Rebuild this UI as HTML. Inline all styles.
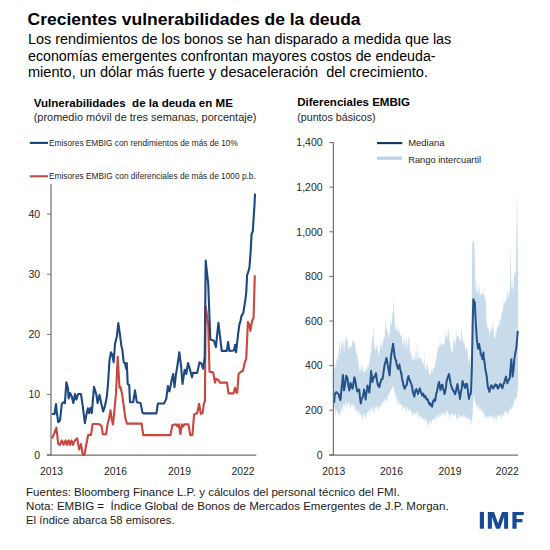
<!DOCTYPE html>
<html><head><meta charset="utf-8"><style>html,body{margin:0;padding:0;background:#fff;width:550px;height:550px;overflow:hidden}svg{display:block;font-family:"Liberation Sans", sans-serif}text{white-space:pre}</style></head>
<body><svg width="550" height="550" viewBox="0 0 550 550" font-family="'Liberation Sans', sans-serif">
<rect width="550" height="550" fill="#fff"/>
<!-- left chart -->
<line x1="51.0" y1="184" x2="51.0" y2="455.6" stroke="#6e6e6e" stroke-width="1.2"/>
<line x1="47" y1="455.1" x2="256.3" y2="455.1" stroke="#6e6e6e" stroke-width="1.2"/>
<path transform="translate(0,0.4)" d="M51.8,438.0 L53.6,434.5 L56.4,427.3 L58.2,443.6 L60.0,444.5 L61.8,440.0 L63.6,444.5 L65.5,440.0 L67.0,444.5 L68.5,440.0 L70.0,444.5 L71.5,440.0 L73.0,444.5 L75.0,440.0 L77.3,438.0 L79.0,449.0 L81.0,443.6 L82.7,454.5 L84.5,454.5 L86.4,443.6 L88.2,434.5 L91.0,434.5 L92.7,423.6 L96.4,423.6 L99.9,424.0 L101.5,425.6 L102.9,433.8 L106.1,433.8 L107.8,422.4 L108.9,419.0 L110.5,410.0 L111.7,419.0 L113.0,424.0 L114.3,411.0 L116.0,393.0 L117.7,356.4 L119.5,387.3 L120.4,386.4 L122.0,393.0 L123.6,404.4 L125.3,417.5 L126.9,423.2 L141.6,423.2 L143.3,434.7 L170.5,434.7 L172.3,424.9 L176.0,423.8 L177.5,426.0 L178.8,423.8 L180.4,433.6 L181.9,423.8 L183.2,426.0 L184.7,423.8 L188.4,423.8 L190.2,434.7 L192.4,434.7 L194.1,414.0 L197.2,412.9 L199.1,403.3 L200.8,413.5 L202.6,412.7 L204.0,402.5 L204.9,401.0 L205.7,306.0 L207.2,316.2 L208.2,323.8 L209.5,371.3 L213.2,372.0 L215.0,382.2 L216.1,378.5 L218.3,379.3 L220.0,382.2 L227.0,382.2 L228.5,393.0 L233.5,393.0 L235.0,387.3 L236.5,392.4 L237.2,392.4 L238.6,373.5 L240.8,371.3 L243.0,370.5 L243.7,367.0 L245.2,360.4 L246.2,358.9 L247.1,340.0 L247.9,321.5 L249.2,323.9 L250.4,330.5 L252.0,320.6 L253.6,317.4 L254.8,274.8" fill="none" stroke="#c9463e" stroke-width="2.1" stroke-linejoin="round"/>
<path transform="translate(0,0.4)" d="M51.8,413.6 L54.5,413.6 L56.0,403.6 L56.9,412.7 L58.2,421.8 L60.0,420.0 L61.8,403.6 L63.6,401.8 L64.9,402.7 L66.4,381.8 L67.8,387.0 L68.7,398.0 L70.0,392.7 L71.8,396.0 L73.3,402.7 L75.0,393.6 L76.4,399.0 L78.2,393.6 L81.0,393.6 L82.7,405.5 L84.9,422.7 L86.4,414.5 L87.8,408.0 L89.0,412.7 L90.4,407.6 L91.8,412.7 L94.0,386.4 L96.4,394.5 L97.6,402.7 L99.5,394.5 L101.4,403.6 L103.2,411.0 L105.0,405.5 L106.8,396.4 L108.0,383.6 L109.5,360.0 L111.0,351.8 L112.3,354.5 L113.7,361.8 L115.0,343.6 L116.8,336.4 L118.3,322.7 L119.5,331.0 L121.4,345.5 L122.3,349.0 L123.7,361.8 L125.0,362.7 L126.0,368.0 L126.8,362.7 L127.7,383.6 L129.2,384.5 L130.0,401.8 L133.2,401.8 L135.0,390.0 L136.8,401.8 L140.5,402.7 L142.6,412.7 L143.9,413.0 L156.4,413.0 L157.9,403.1 L164.0,403.1 L166.2,398.7 L167.9,385.6 L169.5,391.0 L171.6,380.2 L173.2,373.6 L174.5,386.7 L176.0,373.6 L177.5,364.9 L179.3,351.8 L181.0,364.9 L182.5,383.5 L184.7,369.3 L186.3,373.6 L188.0,362.7 L189.7,368.2 L192.0,376.9 L192.8,372.5 L197.2,372.5 L199.5,362.0 L201.5,363.3 L203.1,368.3 L204.7,356.9 L205.7,260.2 L207.2,274.2 L208.2,283.0 L210.3,339.0 L214.0,340.3 L215.9,346.7 L218.4,322.5 L220.4,339.0 L221.7,350.5 L226.8,350.5 L228.1,341.6 L229.4,350.5 L234.0,350.1 L235.1,344.4 L236.1,351.7 L238.1,333.7 L239.4,323.9 L240.5,320.6 L241.4,315.7 L243.3,312.5 L244.3,305.9 L245.5,298.6 L246.3,291.2 L247.1,274.8 L248.7,269.9 L249.5,266.8 L250.9,247.2 L251.5,234.1 L252.8,230.8 L253.6,217.7 L254.5,204.6 L255.0,193.2" fill="none" stroke="#1d4880" stroke-width="2.1" stroke-linejoin="round"/>
<line x1="29.8" y1="142.9" x2="48" y2="142.9" stroke="#17416f" stroke-width="2.1"/>
<line x1="29.8" y1="176.3" x2="48" y2="176.3" stroke="#b4504a" stroke-width="2.1"/>
<!-- right chart -->
<path d="M333.8,368.0 L334.2,368.3 L334.7,368.9 L334.9,366.9 L335.1,367.8 L335.6,362.7 L336.1,367.3 L336.5,357.4 L336.9,361.3 L337.4,356.1 L337.9,359.8 L338.2,360.4 L338.3,349.6 L338.8,355.9 L339.2,341.2 L339.6,338.7 L340.1,354.6 L340.6,353.2 L341.0,336.2 L341.4,347.8 L341.9,347.1 L342.3,343.0 L342.4,336.8 L342.8,343.3 L343.2,338.2 L343.7,350.1 L343.9,352.2 L344.1,353.0 L344.6,348.0 L345.1,334.5 L345.5,342.2 L345.9,333.2 L346.4,341.0 L346.9,342.4 L347.3,336.5 L347.8,338.8 L348.0,348.9 L348.2,351.4 L348.6,347.7 L349.1,348.5 L349.6,345.8 L350.0,349.7 L350.4,344.9 L350.9,345.0 L351.3,347.3 L351.4,347.9 L351.8,345.2 L352.2,345.4 L352.7,338.0 L353.1,341.0 L353.6,340.4 L354.1,343.9 L354.5,340.0 L354.9,343.5 L355.4,348.8 L355.9,352.0 L356.2,355.5 L356.3,353.2 L356.8,354.9 L357.2,350.1 L357.6,364.0 L358.1,356.3 L358.6,362.7 L359.0,365.4 L359.4,371.4 L359.5,368.6 L359.9,371.7 L360.4,369.1 L360.8,369.3 L361.2,361.3 L361.7,373.0 L362.1,371.1 L362.6,362.8 L363.1,372.6 L363.5,370.4 L363.9,373.2 L364.4,371.8 L364.9,372.2 L365.3,369.9 L365.8,368.9 L366.2,371.3 L366.6,367.9 L367.1,369.5 L367.6,365.1 L368.0,366.0 L368.4,366.7 L368.5,366.9 L368.9,365.3 L369.4,360.8 L369.8,360.4 L370.2,355.3 L370.7,355.6 L370.9,352.2 L371.1,352.7 L371.6,345.6 L372.1,339.2 L372.5,339.5 L372.9,333.0 L372.9,334.6 L373.4,326.7 L373.9,341.4 L374.3,344.3 L374.8,350.2 L375.0,350.6 L375.2,346.4 L375.6,351.0 L376.1,350.2 L376.6,344.4 L377.0,345.8 L377.4,346.3 L377.9,351.3 L378.4,353.9 L378.8,355.7 L379.1,355.5 L379.2,349.2 L379.7,352.1 L380.1,349.5 L380.6,339.3 L381.1,346.3 L381.5,346.2 L381.9,348.3 L382.4,344.0 L382.9,341.8 L383.3,341.3 L383.8,336.6 L384.2,337.4 L384.6,338.0 L385.1,332.6 L385.6,319.0 L386.0,320.3 L386.4,330.5 L386.5,328.0 L386.9,329.2 L387.4,330.1 L387.8,332.4 L388.2,337.4 L388.7,335.3 L388.9,337.5 L389.1,336.2 L389.6,332.9 L390.1,331.7 L390.5,319.1 L390.9,326.9 L391.4,325.0 L391.9,322.6 L392.3,313.9 L392.8,311.4 L393.2,310.4 L393.5,306.0 L393.6,292.6 L394.1,312.2 L394.6,318.9 L395.0,325.3 L395.4,328.0 L395.5,330.9 L395.9,329.7 L396.4,329.9 L396.8,331.1 L397.2,330.1 L397.7,324.8 L398.1,330.7 L398.6,333.3 L399.1,328.1 L399.5,330.6 L399.6,331.0 L399.9,334.1 L400.4,335.2 L400.9,337.1 L401.3,335.2 L401.8,332.2 L402.0,344.0 L402.2,345.4 L402.6,343.3 L403.1,338.6 L403.6,345.8 L404.0,335.0 L404.4,341.8 L404.9,348.7 L405.0,346.9 L405.4,336.6 L405.8,349.8 L406.2,335.7 L406.7,345.2 L407.1,349.6 L407.6,344.7 L408.1,339.2 L408.5,336.1 L408.8,346.9 L408.9,336.9 L409.4,337.1 L409.9,353.0 L410.3,351.3 L410.8,354.4 L411.2,357.5 L411.4,358.4 L411.6,346.9 L412.1,357.0 L412.6,359.6 L413.0,360.3 L413.4,359.0 L413.9,359.4 L414.4,355.0 L414.8,361.0 L415.2,362.2 L415.2,360.2 L415.7,352.0 L416.1,349.0 L416.6,359.6 L417.1,360.7 L417.5,351.0 L417.9,343.9 L418.4,360.9 L418.9,357.2 L419.3,360.1 L419.8,356.6 L420.2,357.6 L420.3,358.4 L420.6,358.1 L421.1,359.1 L421.6,358.7 L422.0,362.7 L422.4,362.3 L422.9,363.7 L423.4,364.9 L423.8,360.2 L424.2,351.5 L424.7,367.0 L425.1,365.0 L425.4,368.5 L425.6,371.1 L426.1,368.9 L426.5,361.7 L426.9,369.7 L427.4,366.6 L427.9,363.2 L428.3,370.6 L428.8,369.9 L429.2,372.5 L429.6,375.0 L430.1,374.2 L430.5,374.9 L430.6,372.5 L431.0,372.8 L431.4,368.5 L431.9,369.7 L432.4,369.3 L432.8,373.9 L433.2,369.1 L433.7,368.2 L434.1,363.5 L434.3,368.5 L434.6,368.1 L435.1,365.7 L435.5,360.7 L435.9,362.1 L436.4,355.5 L436.9,359.0 L437.3,348.1 L437.8,354.1 L438.1,350.0 L438.2,345.9 L438.6,346.7 L439.1,346.2 L439.6,347.7 L440.0,331.4 L440.4,345.3 L440.9,346.1 L441.4,343.7 L441.8,343.3 L442.2,347.6 L442.7,342.4 L443.1,344.3 L443.2,344.0 L443.6,343.8 L444.1,343.4 L444.5,344.4 L444.9,340.9 L445.4,331.6 L445.9,337.4 L446.3,341.1 L446.8,329.6 L447.2,335.2 L447.6,337.5 L448.1,333.7 L448.3,336.0 L448.6,327.3 L449.0,329.9 L449.4,339.7 L449.9,343.1 L450.4,345.6 L450.8,347.0 L451.2,350.3 L451.7,353.0 L452.1,352.0 L452.1,353.1 L452.6,352.4 L453.1,341.1 L453.5,346.5 L453.9,333.6 L454.4,340.9 L454.9,341.7 L455.3,344.7 L455.8,341.9 L456.2,339.5 L456.6,327.7 L457.1,339.3 L457.2,337.0 L457.6,334.9 L458.0,335.9 L458.4,338.0 L458.9,333.3 L459.4,341.8 L459.8,339.3 L460.2,341.8 L460.7,340.9 L461.0,341.0 L461.1,329.6 L461.6,327.4 L462.1,339.3 L462.5,342.5 L462.9,335.5 L463.4,341.7 L463.9,343.1 L464.3,342.9 L464.8,343.4 L464.8,345.0 L465.2,348.7 L465.6,349.3 L466.1,348.3 L466.6,346.4 L467.0,351.8 L467.4,346.5 L467.9,356.9 L468.4,362.0 L468.6,360.9 L468.8,363.2 L469.2,359.6 L469.7,356.2 L470.1,356.5 L470.6,365.3 L471.0,367.0 L471.1,366.5 L471.5,350.0 L471.9,283.1 L472.2,241.5 L472.4,243.8 L472.9,241.6 L473.3,241.8 L473.8,239.9 L474.0,239.0 L474.2,245.8 L474.6,250.3 L475.1,275.9 L475.5,288.7 L475.6,290.0 L476.0,291.8 L476.4,279.4 L476.9,291.1 L477.4,293.0 L477.8,293.1 L478.2,282.9 L478.7,294.3 L479.1,295.3 L479.6,284.2 L480.1,291.4 L480.2,293.5 L480.5,296.1 L480.9,294.8 L481.4,292.1 L481.9,295.2 L482.3,294.5 L482.8,293.9 L483.2,294.6 L483.6,288.3 L484.1,298.3 L484.6,294.4 L485.0,299.4 L485.4,299.2 L485.7,298.0 L485.9,302.3 L486.4,316.0 L486.8,324.3 L487.2,325.2 L487.7,327.1 L488.1,328.7 L488.6,327.8 L489.0,335.2 L489.1,335.6 L489.5,334.8 L489.9,329.7 L490.4,333.0 L490.9,328.6 L491.2,328.6 L491.3,329.7 L491.8,328.1 L492.2,332.7 L492.6,323.4 L493.1,319.8 L493.6,331.0 L494.0,335.7 L494.4,337.1 L494.9,338.7 L495.4,337.8 L495.5,337.4 L495.8,329.0 L496.2,332.6 L496.7,332.4 L497.1,324.1 L497.6,329.3 L497.7,328.6 L498.1,325.6 L498.5,326.3 L498.9,326.1 L499.4,316.3 L499.9,325.7 L499.9,324.3 L500.3,319.6 L500.8,318.4 L501.2,319.1 L501.6,312.6 L502.1,311.2 L502.6,311.2 L503.0,309.3 L503.4,306.7 L503.9,298.2 L504.4,303.7 L504.8,301.5 L505.2,300.5 L505.4,302.5 L505.7,305.0 L506.1,300.8 L506.6,298.4 L507.1,290.3 L507.5,292.1 L507.9,298.7 L508.4,292.0 L508.6,298.0 L508.9,299.6 L509.3,287.4 L509.8,295.0 L509.8,292.0 L510.2,250.0 L510.4,241.0 L510.6,257.4 L511.1,282.7 L511.2,288.0 L511.6,289.0 L512.0,273.7 L512.5,287.9 L512.9,290.5 L513.3,288.7 L513.4,287.2 L513.8,282.1 L514.2,274.0 L514.2,272.0 L514.7,274.3 L515.1,270.1 L515.6,274.7 L516.0,276.7 L516.0,271.7 L516.5,228.4 L517.0,203.1 L517.2,187.0 L517.4,215.1 L517.9,256.5 L518.0,290.0 L518.0,386.7 L517.9,389.2 L517.4,391.3 L517.0,396.2 L516.5,396.8 L516.0,397.2 L515.6,400.0 L515.4,399.4 L515.1,402.7 L514.7,397.9 L514.2,399.4 L513.8,405.1 L513.4,404.1 L512.9,405.5 L512.5,405.8 L512.0,410.3 L511.6,409.1 L511.1,405.4 L510.6,409.2 L510.3,409.6 L510.2,408.6 L509.8,409.3 L509.3,410.1 L508.9,410.1 L508.4,417.2 L507.9,414.1 L507.5,410.7 L507.1,414.3 L506.6,412.0 L506.1,413.2 L505.7,411.8 L505.2,410.7 L504.8,410.4 L504.4,412.6 L503.9,416.6 L503.4,415.6 L503.0,413.6 L502.7,414.7 L502.6,416.3 L502.1,412.8 L501.6,419.2 L501.2,420.0 L500.8,417.6 L500.3,414.9 L499.9,414.2 L499.4,414.4 L498.9,418.2 L498.5,414.2 L498.1,417.2 L497.6,415.5 L497.1,419.4 L496.7,424.8 L496.2,414.1 L495.8,417.5 L495.4,417.2 L495.0,417.2 L494.9,418.0 L494.4,420.0 L494.0,416.7 L493.6,423.1 L493.1,414.6 L492.6,415.0 L492.2,417.9 L491.8,418.7 L491.3,417.0 L490.9,415.4 L490.4,416.9 L489.9,415.4 L489.5,416.9 L489.1,416.1 L488.6,418.3 L488.1,415.1 L487.7,419.8 L487.4,417.2 L487.2,416.6 L486.8,414.7 L486.4,418.7 L485.9,416.9 L485.4,417.3 L485.0,418.9 L484.6,412.9 L484.1,415.5 L483.6,412.0 L483.2,411.0 L482.8,409.7 L482.4,412.1 L482.3,413.8 L481.9,409.8 L481.4,410.7 L480.9,411.5 L480.5,408.3 L480.1,407.1 L479.6,411.4 L479.1,405.9 L478.7,410.5 L478.2,405.1 L477.8,405.5 L477.4,409.7 L477.3,407.0 L476.9,406.1 L476.4,407.0 L476.0,400.6 L475.6,403.2 L475.1,403.5 L474.6,398.5 L474.2,396.7 L473.8,396.3 L473.5,396.9 L473.3,400.5 L472.9,410.1 L472.4,415.1 L472.2,421.0 L471.9,426.4 L471.5,422.9 L471.1,418.6 L470.6,421.8 L470.1,418.1 L470.1,419.5 L469.7,416.7 L469.2,419.6 L468.8,419.7 L468.4,421.1 L467.9,416.8 L467.4,418.1 L467.0,420.0 L466.6,417.0 L466.1,416.7 L465.6,419.3 L465.2,416.6 L464.8,417.6 L464.3,414.6 L463.9,413.7 L463.6,416.5 L463.4,417.8 L462.9,414.9 L462.5,414.8 L462.1,417.6 L461.6,416.4 L461.1,417.6 L460.7,417.3 L460.2,415.2 L459.8,417.8 L459.4,413.4 L458.9,421.2 L458.4,413.0 L458.0,415.5 L457.6,417.8 L457.1,422.7 L456.6,417.4 L456.2,418.7 L455.8,415.0 L455.3,412.7 L454.9,415.8 L454.4,413.6 L453.9,417.5 L453.7,415.0 L453.5,413.9 L453.1,414.6 L452.6,415.7 L452.1,412.3 L451.7,413.3 L451.2,414.0 L450.8,413.7 L450.4,418.8 L449.9,414.4 L449.4,422.1 L449.0,409.9 L448.6,415.3 L448.1,413.6 L447.6,410.1 L447.2,412.0 L446.8,412.7 L446.3,409.8 L445.9,414.2 L445.4,417.2 L444.9,413.3 L444.5,414.6 L444.1,412.0 L443.6,414.8 L443.1,414.4 L442.7,411.8 L442.2,415.2 L441.8,414.9 L441.4,416.4 L440.9,417.1 L440.4,413.7 L440.0,412.8 L439.6,417.4 L439.1,412.1 L438.6,417.9 L438.2,418.1 L437.8,414.7 L437.4,415.5 L437.3,420.0 L436.9,418.0 L436.4,414.8 L435.9,416.7 L435.5,425.2 L435.1,416.7 L434.6,420.8 L434.1,417.0 L433.7,420.2 L433.2,419.2 L432.8,419.9 L432.4,418.8 L431.9,422.2 L431.6,422.5 L431.4,424.8 L431.0,421.5 L430.6,422.3 L430.1,419.5 L429.6,423.2 L429.2,429.5 L428.8,420.9 L428.3,423.7 L427.9,422.3 L427.4,428.3 L426.9,420.2 L426.5,420.4 L426.1,421.9 L425.9,421.0 L425.6,419.1 L425.1,418.1 L424.7,423.3 L424.2,418.6 L423.8,416.7 L423.4,421.6 L422.9,419.3 L422.4,418.4 L422.0,415.5 L421.6,419.6 L421.1,417.1 L420.6,416.2 L420.2,415.8 L419.8,418.7 L419.3,417.8 L418.9,415.6 L418.4,413.3 L417.9,412.6 L417.7,414.5 L417.5,420.5 L417.1,415.8 L416.6,411.1 L416.1,411.4 L415.7,415.4 L415.2,413.6 L414.8,410.2 L414.4,415.5 L413.9,412.7 L413.4,412.4 L413.0,414.7 L412.6,414.0 L412.1,418.6 L411.6,411.5 L411.2,411.7 L410.8,410.1 L410.3,407.8 L409.9,411.5 L409.5,410.0 L409.4,412.9 L408.9,409.2 L408.5,407.6 L408.1,411.5 L407.6,407.1 L407.1,406.1 L406.7,409.9 L406.2,414.0 L405.8,408.3 L405.4,408.9 L404.9,405.6 L404.4,406.6 L404.0,405.2 L403.6,408.8 L403.1,408.2 L402.6,402.9 L402.2,412.2 L401.8,405.9 L401.4,405.0 L401.3,404.2 L400.9,402.8 L400.4,404.7 L399.9,402.9 L399.5,401.6 L399.1,404.6 L398.6,405.9 L398.1,397.5 L397.7,404.6 L397.2,397.7 L396.8,404.8 L396.5,397.9 L396.4,396.3 L395.9,395.7 L395.4,398.8 L395.0,391.0 L394.6,393.5 L394.1,390.2 L393.6,387.1 L393.2,386.5 L392.8,385.2 L392.3,389.6 L391.9,389.5 L391.4,389.1 L390.9,389.2 L390.5,392.4 L390.1,392.7 L390.0,393.0 L389.6,391.8 L389.1,396.1 L388.7,394.7 L388.2,393.8 L387.8,395.9 L387.4,403.4 L386.9,399.3 L386.4,400.0 L386.0,401.0 L385.6,397.5 L385.1,401.5 L384.6,401.9 L384.2,397.7 L383.8,405.0 L383.4,401.4 L383.3,401.2 L382.9,402.5 L382.4,401.6 L381.9,403.2 L381.5,404.6 L381.1,404.8 L380.6,409.0 L380.1,404.8 L379.7,406.1 L379.2,407.1 L379.1,409.0 L378.8,406.6 L378.4,411.7 L377.9,409.3 L377.4,405.7 L377.0,407.5 L376.6,405.6 L376.1,408.1 L375.6,405.6 L375.2,408.8 L374.8,410.9 L374.7,408.0 L374.3,408.8 L373.9,416.2 L373.4,409.7 L372.9,406.8 L372.5,407.7 L372.1,415.2 L371.6,408.4 L371.1,406.4 L370.7,410.3 L370.3,409.0 L370.2,409.3 L369.8,418.2 L369.4,410.5 L368.9,413.3 L368.4,408.8 L368.0,412.4 L367.6,412.7 L367.1,412.8 L366.6,413.8 L366.2,416.4 L366.0,415.0 L365.8,422.5 L365.3,415.2 L364.9,417.6 L364.4,416.6 L363.9,413.0 L363.5,414.3 L363.1,416.2 L362.6,421.1 L362.1,418.3 L361.7,412.8 L361.6,415.0 L361.2,417.5 L360.8,413.6 L360.4,414.5 L359.9,416.3 L359.4,411.0 L359.0,409.9 L358.6,414.2 L358.1,412.8 L357.6,413.5 L357.2,410.3 L356.8,408.9 L356.3,411.5 L356.2,410.0 L355.9,410.8 L355.4,410.9 L354.9,405.6 L354.5,405.5 L354.1,412.2 L353.6,405.1 L353.1,405.2 L352.7,402.8 L352.2,408.1 L351.8,404.6 L351.4,404.2 L350.9,406.6 L350.4,410.3 L350.0,405.2 L349.6,401.3 L349.1,402.3 L348.6,405.0 L348.2,406.7 L347.8,402.2 L347.4,403.5 L347.3,404.1 L346.9,411.8 L346.4,401.7 L345.9,401.2 L345.5,403.1 L345.1,406.3 L344.6,406.1 L344.1,406.4 L343.7,406.3 L343.2,401.7 L343.1,404.0 L342.8,413.0 L342.4,410.8 L341.9,404.6 L341.4,410.8 L341.0,411.6 L340.6,409.2 L340.1,415.6 L339.8,413.0 L339.6,413.9 L339.2,417.8 L338.8,413.4 L338.3,413.7 L337.9,414.3 L337.4,411.4 L336.9,410.8 L336.5,409.0 L336.1,414.4 L335.6,417.2 L335.1,406.5 L334.7,407.5 L334.2,409.6 L333.8,410.0 Z" fill="#c8dbeb" stroke="none"/>
<path d="M334.1,403.0 L334.6,396.1 L335.2,393.6 L336.3,392.0 L337.4,393.3 L338.5,393.8 L338.7,394.5 L339.6,397.9 L340.4,400.2 L340.7,397.9 L341.8,385.6 L342.0,385.5 L342.8,375.6 L342.9,374.9 L344.0,390.4 L345.1,384.5 L346.1,376.5 L346.2,375.7 L347.3,377.8 L347.7,379.7 L348.4,386.1 L349.4,390.4 L349.5,389.7 L350.6,383.0 L351.7,387.5 L352.6,388.7 L352.8,387.3 L353.9,380.5 L354.3,377.3 L355.0,379.1 L355.9,384.6 L356.1,386.0 L357.2,391.4 L357.5,391.2 L358.3,390.5 L359.2,389.5 L359.4,392.2 L360.5,401.6 L360.8,403.5 L361.6,399.0 L362.5,397.7 L362.7,397.7 L363.8,391.4 L364.1,389.5 L364.9,393.7 L365.7,399.4 L366.0,395.1 L367.1,389.4 L367.4,385.5 L368.2,388.0 L369.3,392.6 L369.4,392.0 L370.4,381.2 L371.1,371.0 L371.5,374.3 L372.6,381.9 L372.7,380.8 L373.7,377.8 L374.4,376.4 L374.8,376.8 L375.9,373.2 L376.0,373.2 L377.0,381.1 L377.6,383.0 L378.1,385.8 L379.2,385.4 L379.3,387.3 L380.3,382.5 L380.9,381.9 L381.4,379.3 L382.5,379.0 L383.1,375.4 L383.6,371.7 L384.7,364.4 L385.8,360.7 L386.4,357.9 L386.9,359.8 L388.0,366.6 L389.1,372.7 L389.6,375.4 L390.2,366.6 L390.7,360.1 L391.3,354.8 L391.8,351.4 L392.4,348.2 L393.1,343.7 L393.5,347.2 L394.5,354.6 L394.6,356.6 L395.7,360.0 L396.2,361.2 L396.8,365.4 L397.8,367.7 L397.9,368.9 L399.0,367.2 L399.4,364.4 L400.1,368.7 L401.1,373.2 L401.2,372.3 L402.3,380.3 L402.7,380.8 L403.4,385.3 L404.4,387.3 L404.5,388.8 L405.6,386.3 L406.5,385.0 L406.7,385.0 L407.8,378.0 L408.5,376.0 L408.9,378.5 L410.0,380.8 L410.5,382.0 L411.1,383.5 L412.2,387.1 L412.5,390.0 L413.3,393.4 L414.4,396.7 L414.5,395.0 L415.5,390.4 L416.5,389.0 L416.6,390.5 L417.7,392.6 L418.0,394.0 L418.8,390.6 L419.9,388.4 L420.0,389.0 L421.0,392.6 L422.0,394.0 L422.1,395.6 L423.2,393.6 L424.3,397.2 L424.5,397.0 L425.4,395.9 L426.5,399.5 L427.0,399.0 L427.6,399.1 L428.7,402.8 L429.8,404.7 L430.0,403.0 L430.9,404.8 L431.5,406.0 L432.0,406.7 L433.1,401.2 L433.5,401.0 L434.2,399.3 L435.0,401.0 L435.3,400.0 L436.4,392.8 L437.0,392.0 L437.5,388.3 L438.6,383.6 L439.0,382.0 L439.7,386.2 L440.5,390.0 L440.8,387.9 L441.9,384.7 L442.5,385.0 L443.0,388.7 L444.1,391.5 L444.5,394.0 L445.2,391.6 L446.3,384.8 L446.5,382.0 L447.4,378.6 L448.5,375.4 L449.0,374.0 L449.6,377.4 L450.7,383.9 L451.0,385.0 L451.8,387.4 L452.9,390.0 L453.0,390.0 L454.0,391.7 L455.1,394.3 L455.5,393.0 L456.2,389.9 L457.3,384.6 L457.5,384.0 L458.4,390.3 L459.5,395.0 L460.0,399.0 L460.6,393.9 L461.7,388.7 L462.5,381.0 L462.8,381.9 L463.9,385.1 L465.0,388.0 L466.1,383.8 L467.0,384.0 L467.2,385.2 L468.3,394.1 L469.0,399.0 L469.4,395.7 L470.5,394.2 L471.0,392.0 L471.6,376.0 L471.8,370.0 L472.6,328.6 L472.7,322.6 L473.3,299.2 L473.8,300.8 L474.8,302.5 L474.9,304.5 L475.5,317.7 L476.0,326.6 L476.3,330.8 L477.0,341.7 L477.1,341.7 L478.1,348.3 L478.2,348.7 L479.2,343.9 L479.3,345.6 L480.4,350.7 L480.7,354.8 L481.5,355.0 L482.5,359.2 L482.6,359.2 L483.5,352.6 L483.7,356.4 L484.8,364.0 L485.1,367.9 L485.9,371.8 L486.8,376.6 L487.0,379.0 L487.9,387.6 L488.1,387.5 L489.2,390.8 L489.4,391.9 L490.3,387.9 L491.2,385.4 L491.4,385.2 L492.5,387.7 L493.4,388.6 L493.6,387.4 L494.7,385.4 L495.5,384.3 L495.8,386.0 L496.9,385.1 L497.7,388.6 L498.0,388.3 L499.1,386.8 L499.9,384.3 L500.2,384.0 L501.3,385.3 L502.1,387.6 L502.4,388.2 L503.5,383.8 L504.3,383.2 L504.6,380.8 L505.7,377.5 L506.0,376.6 L506.8,380.9 L507.5,383.2 L507.9,380.8 L509.0,379.5 L509.7,378.8 L510.1,373.2 L511.2,361.8 L511.3,359.2 L512.3,372.3 L512.6,376.6 L513.4,370.6 L514.5,357.5 L514.7,357.0 L515.6,351.5 L516.3,348.3 L516.7,344.2 L517.8,330.8" fill="none" stroke="#24538a" stroke-width="2.0" stroke-linejoin="round"/>
<line x1="333.4" y1="142.5" x2="333.4" y2="455.6" stroke="#6e6e6e" stroke-width="1.2"/>
<line x1="329.3" y1="455.1" x2="518" y2="455.1" stroke="#6e6e6e" stroke-width="1.2"/>
<line x1="377" y1="143.1" x2="402.3" y2="143.1" stroke="#0f3764" stroke-width="2.1"/>
<line x1="377" y1="158.2" x2="402" y2="158.2" stroke="#bfd3ea" stroke-width="3.3"/>
<line x1="47" y1="454.8" x2="51" y2="454.8" stroke="#6e6e6e" stroke-width="1"/><line x1="47" y1="394.6" x2="51" y2="394.6" stroke="#6e6e6e" stroke-width="1"/><line x1="47" y1="334.4" x2="51" y2="334.4" stroke="#6e6e6e" stroke-width="1"/><line x1="47" y1="274.2" x2="51" y2="274.2" stroke="#6e6e6e" stroke-width="1"/><line x1="47" y1="214" x2="51" y2="214" stroke="#6e6e6e" stroke-width="1"/><line x1="329.3" y1="454.8" x2="333.6" y2="454.8" stroke="#6e6e6e" stroke-width="1"/><line x1="329.3" y1="410.2" x2="333.6" y2="410.2" stroke="#6e6e6e" stroke-width="1"/><line x1="329.3" y1="365.6" x2="333.6" y2="365.6" stroke="#6e6e6e" stroke-width="1"/><line x1="329.3" y1="321.0" x2="333.6" y2="321.0" stroke="#6e6e6e" stroke-width="1"/><line x1="329.3" y1="276.4" x2="333.6" y2="276.4" stroke="#6e6e6e" stroke-width="1"/><line x1="329.3" y1="231.8" x2="333.6" y2="231.8" stroke="#6e6e6e" stroke-width="1"/><line x1="329.3" y1="187.2" x2="333.6" y2="187.2" stroke="#6e6e6e" stroke-width="1"/><line x1="329.3" y1="142.6" x2="333.6" y2="142.6" stroke="#6e6e6e" stroke-width="1"/>
<text x="27.6" y="25.4" font-size="17.2" font-weight="bold" fill="#000" text-anchor="start" textLength="333" lengthAdjust="spacingAndGlyphs">Crecientes vulnerabilidades de la deuda</text><text x="28" y="44.3" font-size="14" font-weight="normal" fill="#000" text-anchor="start" textLength="423.3" lengthAdjust="spacingAndGlyphs">Los rendimientos de los bonos se han disparado a medida que las</text><text x="28" y="60.7" font-size="14" font-weight="normal" fill="#000" text-anchor="start" textLength="407.6" lengthAdjust="spacingAndGlyphs">economías emergentes confrontan mayores costos de endeuda-</text><text x="28" y="77" font-size="14" font-weight="normal" fill="#000" text-anchor="start" textLength="400" lengthAdjust="spacingAndGlyphs">miento, un dólar más fuerte y desaceleración  del crecimiento.</text><text x="33.7" y="106.5" font-size="10.7" font-weight="bold" fill="#000" text-anchor="start" textLength="199.2" lengthAdjust="spacingAndGlyphs">Vulnerabilidades  de la deuda en ME</text><text x="33.7" y="120.7" font-size="10.8" font-weight="normal" fill="#262626" text-anchor="start" textLength="222.7" lengthAdjust="spacingAndGlyphs">(promedio móvil de tres semanas, porcentaje)</text><text x="297.2" y="106" font-size="10.7" font-weight="bold" fill="#000" text-anchor="start" textLength="112.8" lengthAdjust="spacingAndGlyphs">Diferenciales EMBIG</text><text x="297.2" y="120.7" font-size="10.8" font-weight="normal" fill="#262626" text-anchor="start" textLength="78.5" lengthAdjust="spacingAndGlyphs">(puntos básicos)</text><text x="49" y="145.7" font-size="8.6" font-weight="normal" fill="#262626" text-anchor="start" textLength="188.8" lengthAdjust="spacingAndGlyphs">Emisores EMBIG con rendimientos de más de 10%</text><text x="49" y="179.1" font-size="8.6" font-weight="normal" fill="#262626" text-anchor="start" textLength="206.8" lengthAdjust="spacingAndGlyphs">Emisores EMBIG con diferenciales de más de 1000 p.b.</text><text x="408.2" y="146.4" font-size="9.6" font-weight="normal" fill="#262626" text-anchor="start" textLength="36.2" lengthAdjust="spacingAndGlyphs">Mediana</text><text x="408.2" y="163.2" font-size="9.6" font-weight="normal" fill="#262626" text-anchor="start" textLength="73" lengthAdjust="spacingAndGlyphs">Rango intercuartil</text><text x="26.1" y="495.6" font-size="10.3" font-weight="normal" fill="#1a1a1a" text-anchor="start" textLength="373.9" lengthAdjust="spacingAndGlyphs">Fuentes: Bloomberg Finance L.P. y cálculos del personal técnico del FMI.</text><text x="26.1" y="509.8" font-size="10.3" font-weight="normal" fill="#1a1a1a" text-anchor="start" textLength="422.6" lengthAdjust="spacingAndGlyphs">Nota: EMBIG =  Índice Global de Bonos de Mercados Emergentes de J.P. Morgan.</text><text x="26.1" y="523.8" font-size="10.3" font-weight="normal" fill="#1a1a1a" text-anchor="start" textLength="148.5" lengthAdjust="spacingAndGlyphs">El índice abarca 58 emisores.</text><text x="40.1" y="458.6" font-size="10.5" font-weight="normal" fill="#262626" text-anchor="end">0</text><text x="40.1" y="398.40000000000003" font-size="10.5" font-weight="normal" fill="#262626" text-anchor="end">10</text><text x="40.1" y="338.2" font-size="10.5" font-weight="normal" fill="#262626" text-anchor="end">20</text><text x="40.1" y="278.0" font-size="10.5" font-weight="normal" fill="#262626" text-anchor="end">30</text><text x="40.1" y="217.8" font-size="10.5" font-weight="normal" fill="#262626" text-anchor="end">40</text><text x="51.5" y="474.8" font-size="10.5" font-weight="normal" fill="#262626" text-anchor="middle" textLength="23" lengthAdjust="spacingAndGlyphs">2013</text><text x="115.5" y="474.8" font-size="10.5" font-weight="normal" fill="#262626" text-anchor="middle" textLength="23" lengthAdjust="spacingAndGlyphs">2016</text><text x="179.5" y="474.8" font-size="10.5" font-weight="normal" fill="#262626" text-anchor="middle" textLength="23" lengthAdjust="spacingAndGlyphs">2019</text><text x="242.9" y="474.8" font-size="10.5" font-weight="normal" fill="#262626" text-anchor="middle" textLength="23" lengthAdjust="spacingAndGlyphs">2022</text><text x="322.6" y="458.6" font-size="10.5" font-weight="normal" fill="#262626" text-anchor="end">0</text><text x="322.6" y="414.0" font-size="10.5" font-weight="normal" fill="#262626" text-anchor="end">200</text><text x="322.6" y="369.40000000000003" font-size="10.5" font-weight="normal" fill="#262626" text-anchor="end">400</text><text x="322.6" y="324.8" font-size="10.5" font-weight="normal" fill="#262626" text-anchor="end">600</text><text x="322.6" y="280.2" font-size="10.5" font-weight="normal" fill="#262626" text-anchor="end">800</text><text x="322.6" y="235.60000000000002" font-size="10.5" font-weight="normal" fill="#262626" text-anchor="end">1,000</text><text x="322.6" y="191.0" font-size="10.5" font-weight="normal" fill="#262626" text-anchor="end">1,200</text><text x="322.6" y="146.40000000000003" font-size="10.5" font-weight="normal" fill="#262626" text-anchor="end">1,400</text><text x="333.7" y="474.6" font-size="10.5" font-weight="normal" fill="#262626" text-anchor="middle" textLength="23" lengthAdjust="spacingAndGlyphs">2013</text><text x="391.5" y="474.6" font-size="10.5" font-weight="normal" fill="#262626" text-anchor="middle" textLength="23" lengthAdjust="spacingAndGlyphs">2016</text><text x="449.9" y="474.6" font-size="10.5" font-weight="normal" fill="#262626" text-anchor="middle" textLength="23" lengthAdjust="spacingAndGlyphs">2019</text><text x="507.3" y="474.6" font-size="10.5" font-weight="normal" fill="#262626" text-anchor="middle" textLength="23" lengthAdjust="spacingAndGlyphs">2022</text>
<!-- IMF logo -->
<g fill="#174b97">
<rect x="479.8" y="511.9" width="4.2" height="16.8"/>
<path d="M487.8,511.9 L494,511.9 L498,523.3 L502,511.9 L508.1,511.9 L508.1,528.7 L504.1,528.7 L504.1,516.8 L500,528.7 L496,528.7 L491.9,516.8 L491.9,528.7 L487.8,528.7 Z"/>
<path d="M512.4,511.9 L523.8,511.9 L523.8,515.1 L516.6,515.1 L516.6,519.1 L522.4,519.1 L522.4,522.3 L516.6,522.3 L516.6,528.7 L512.4,528.7 Z"/>
</g>
</svg></body></html>
